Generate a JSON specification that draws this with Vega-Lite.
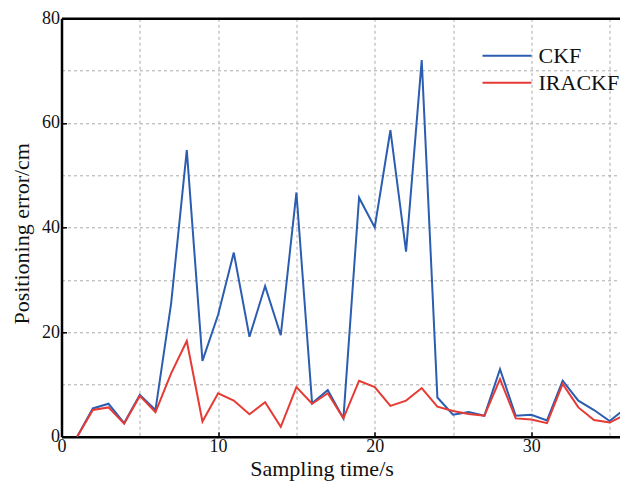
{
  "$schema": "https://vega.github.io/schema/vega-lite/v6.json",
  "width": 558.5,
  "height": 418.4,
  "autosize": {"type": "none"},
  "padding": {"left": 61.5, "top": 18.3, "right": 0, "bottom": 44.3},
  "background": "white",
  "config": {
    "view": {"stroke": null},
    "font": "Liberation Serif",
    "axis": {"labelFont": "Liberation Serif", "titleFont": "Liberation Serif", "labelColor": "#111", "titleColor": "#111", "titleFontWeight": "normal"}
  },
  "data": {
    "values": [
      {"t": 1, "err": 0, "method": "CKF"},
      {"t": 2, "err": 5.4, "method": "CKF"},
      {"t": 3, "err": 6.3, "method": "CKF"},
      {"t": 4, "err": 2.6, "method": "CKF"},
      {"t": 5, "err": 8.0, "method": "CKF"},
      {"t": 6, "err": 5.1, "method": "CKF"},
      {"t": 7, "err": 25.5, "method": "CKF"},
      {"t": 8, "err": 54.8, "method": "CKF"},
      {"t": 9, "err": 14.5, "method": "CKF"},
      {"t": 10, "err": 23.3, "method": "CKF"},
      {"t": 11, "err": 35.2, "method": "CKF"},
      {"t": 12, "err": 19.1, "method": "CKF"},
      {"t": 13, "err": 28.8, "method": "CKF"},
      {"t": 14, "err": 19.4, "method": "CKF"},
      {"t": 15, "err": 46.7, "method": "CKF"},
      {"t": 16, "err": 6.4, "method": "CKF"},
      {"t": 17, "err": 8.9, "method": "CKF"},
      {"t": 18, "err": 3.5, "method": "CKF"},
      {"t": 19, "err": 45.7, "method": "CKF"},
      {"t": 20, "err": 40.0, "method": "CKF"},
      {"t": 21, "err": 58.6, "method": "CKF"},
      {"t": 22, "err": 35.4, "method": "CKF"},
      {"t": 23, "err": 72.0, "method": "CKF"},
      {"t": 24, "err": 7.5, "method": "CKF"},
      {"t": 25, "err": 4.2, "method": "CKF"},
      {"t": 26, "err": 4.7, "method": "CKF"},
      {"t": 27, "err": 4.0, "method": "CKF"},
      {"t": 28, "err": 12.9, "method": "CKF"},
      {"t": 29, "err": 4.0, "method": "CKF"},
      {"t": 30, "err": 4.2, "method": "CKF"},
      {"t": 31, "err": 3.1, "method": "CKF"},
      {"t": 32, "err": 10.7, "method": "CKF"},
      {"t": 33, "err": 6.9, "method": "CKF"},
      {"t": 34, "err": 5.1, "method": "CKF"},
      {"t": 35, "err": 3.0, "method": "CKF"},
      {"t": 36, "err": 5.4, "method": "CKF"},
      {"t": 1, "err": 0, "method": "IRACKF"},
      {"t": 2, "err": 5.1, "method": "IRACKF"},
      {"t": 3, "err": 5.6, "method": "IRACKF"},
      {"t": 4, "err": 2.5, "method": "IRACKF"},
      {"t": 5, "err": 7.8, "method": "IRACKF"},
      {"t": 6, "err": 4.7, "method": "IRACKF"},
      {"t": 7, "err": 12.1, "method": "IRACKF"},
      {"t": 8, "err": 18.3, "method": "IRACKF"},
      {"t": 9, "err": 2.9, "method": "IRACKF"},
      {"t": 10, "err": 8.3, "method": "IRACKF"},
      {"t": 11, "err": 6.9, "method": "IRACKF"},
      {"t": 12, "err": 4.3, "method": "IRACKF"},
      {"t": 13, "err": 6.6, "method": "IRACKF"},
      {"t": 14, "err": 1.9, "method": "IRACKF"},
      {"t": 15, "err": 9.5, "method": "IRACKF"},
      {"t": 16, "err": 6.3, "method": "IRACKF"},
      {"t": 17, "err": 8.3, "method": "IRACKF"},
      {"t": 18, "err": 3.5, "method": "IRACKF"},
      {"t": 19, "err": 10.7, "method": "IRACKF"},
      {"t": 20, "err": 9.5, "method": "IRACKF"},
      {"t": 21, "err": 5.9, "method": "IRACKF"},
      {"t": 22, "err": 6.9, "method": "IRACKF"},
      {"t": 23, "err": 9.3, "method": "IRACKF"},
      {"t": 24, "err": 5.75, "method": "IRACKF"},
      {"t": 25, "err": 4.9, "method": "IRACKF"},
      {"t": 26, "err": 4.35, "method": "IRACKF"},
      {"t": 27, "err": 4.0, "method": "IRACKF"},
      {"t": 28, "err": 11.0, "method": "IRACKF"},
      {"t": 29, "err": 3.5, "method": "IRACKF"},
      {"t": 30, "err": 3.3, "method": "IRACKF"},
      {"t": 31, "err": 2.6, "method": "IRACKF"},
      {"t": 32, "err": 10.1, "method": "IRACKF"},
      {"t": 33, "err": 5.6, "method": "IRACKF"},
      {"t": 34, "err": 3.2, "method": "IRACKF"},
      {"t": 35, "err": 2.7, "method": "IRACKF"},
      {"t": 36, "err": 4.2, "method": "IRACKF"}
    ]
  },
  "layer": [
    {
      "mark": {"type": "line", "strokeWidth": 2, "clip": true},
      "encoding": {
        "x": {
          "field": "t", "type": "quantitative",
          "scale": {"domain": [0, 35.66], "nice": false, "zero": false},
          "axis": {
            "orient": "bottom",
            "values": [0, 5, 10, 15, 20, 25, 30, 35],
            "labelExpr": "datum.value % 10 === 0 ? datum.label : ''",
            "labelFont": "Liberation Serif",
            "labelFontSize": 18,
            "labelPadding": 6,
            "labelFlush": false,
            "tickSize": -5,
            "tickWidth": 1.5,
            "tickColor": "#000",
            "tickOpacity": {"condition": {"test": "datum.value % 10 === 0 && datum.value > 0", "value": 1}, "value": 0},
            "domainColor": "#000",
            "domainWidth": 2.5,
            "grid": true,
            "gridColor": "#aaaaaa",
            "gridDash": [3, 3],
            "gridWidth": 1,
            "gridOpacity": {"condition": {"test": "datum.value === 0", "value": 0}, "value": 1},
            "title": "Sampling time/s",
            "titleFont": "Liberation Serif",
            "titleFontSize": 22,
            "titleX": 260,
            "titleY": 39,
            "titleAlign": "center",
            "titleBaseline": "alphabetic"
          }
        },
        "y": {
          "field": "err", "type": "quantitative",
          "scale": {"domain": [0, 80], "nice": false},
          "axis": {
            "orient": "left",
            "values": [0, 10, 20, 30, 40, 50, 60, 70, 80],
            "labelExpr": "datum.value % 20 === 0 ? datum.label : ''",
            "labelFont": "Liberation Serif",
            "labelFontSize": 18,
            "labelPadding": 7,
            "labelFlush": false,
            "tickSize": -5,
            "tickWidth": 1.5,
            "tickColor": "#000",
            "tickOpacity": {"condition": {"test": "datum.value % 20 === 0 && datum.value > 0", "value": 1}, "value": 0},
            "domainColor": "#000",
            "domainWidth": 2.5,
            "grid": true,
            "gridColor": "#aaaaaa",
            "gridDash": [3, 3],
            "gridWidth": 1,
            "gridOpacity": {"condition": {"test": "datum.value === 0 || datum.value === 80", "value": 0}, "value": 1},
            "title": "Positioning error/cm",
            "titleFont": "Liberation Serif",
            "titleFontSize": 22,
            "titleX": -33.5,
            "titleY": 215,
            "titleAngle": -90,
            "titleAlign": "center",
            "titleBaseline": "alphabetic"
          }
        },
        "color": {
          "field": "method", "type": "nominal",
          "scale": {"domain": ["CKF", "IRACKF"], "range": ["#2B5DB0", "#E63B35"]},
          "legend": {
            "orient": "none",
            "legendX": 420,
            "legendY": 24,
            "title": null,
            "symbolType": "stroke",
            "symbolSize": 2400,
            "symbolStrokeWidth": 2,
            "labelFontSize": 22,
            "labelFont": "Liberation Serif",
            "labelColor": "#111",
            "labelOffset": 6,
            "clipHeight": 27,
            "rowPadding": 0
          }
        }
      }
    },
    {
      "mark": {"type": "line", "strokeOpacity": 0},
      "encoding": {
        "x": {
          "field": "t", "type": "quantitative",
          "axis": {"orient": "top", "labels": false, "ticks": false, "grid": false, "title": null, "domainColor": "#000", "domainWidth": 2.5}
        },
        "y": {"field": "err", "type": "quantitative", "axis": null}
      }
    }
  ],
  "resolve": {"axis": {"x": "independent", "y": "independent"}}
}
